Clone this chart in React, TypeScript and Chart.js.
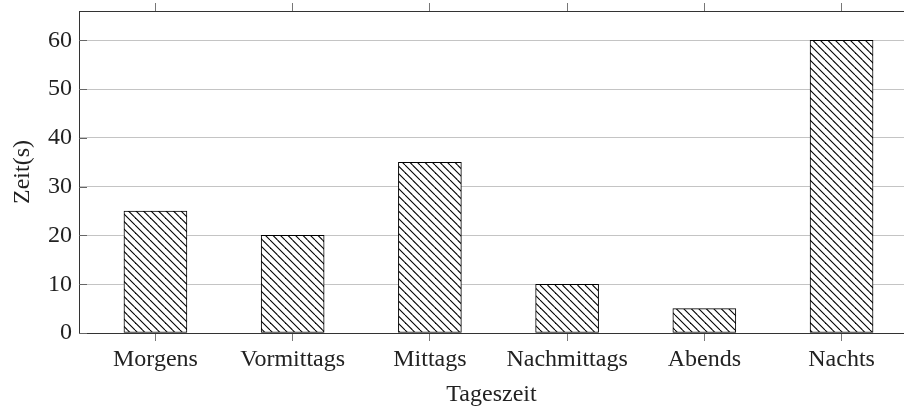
import { useEffect, useRef } from "react";
import { Chart, registerables } from "chart.js";

Chart.register(...registerables);

const categories = ["Morgens", "Vormittags", "Mittags", "Nachmittags", "Abends", "Nachts"];
const zeitValues = [25, 20, 35, 10, 5, 60];
const yTicks = [0, 10, 20, 30, 40, 50, 60];
const xAxisTitle = "Tageszeit";
const yAxisTitle = "Zeit(s)";

const FONT = "'Liberation Serif', 'DejaVu Serif', serif";

function makeHatch(): CanvasPattern | string {
  const s = 15;
  const c = document.createElement("canvas");
  c.width = s;
  c.height = s;
  const g = c.getContext("2d");
  if (!g) return "#fff";
  g.fillStyle = "#ffffff";
  g.fillRect(0, 0, s, s);
  g.strokeStyle = "#000000";
  g.lineWidth = 1.1;
  for (const x0 of [-15, -7.5, 0, 7.5, 15]) {
    g.beginPath();
    g.moveTo(x0, 0);
    g.lineTo(x0 + s, s);
    g.stroke();
  }
  const p = g.createPattern(c, "repeat");
  return p || "#fff";
}

const innerTicks = {
  id: "innerTicks",
  afterDraw(chart: any) {
    const ctx = chart.ctx;
    const y = chart.scales.y;
    const left = chart.chartArea.left;
    ctx.save();
    ctx.strokeStyle = "#666";
    ctx.lineWidth = 1;
    yTicks.forEach((v) => {
      const p = Math.round(y.getPixelForValue(v)) + 0.5;
      ctx.beginPath();
      ctx.moveTo(left, p);
      ctx.lineTo(left + 8, p);
      ctx.stroke();
    });
    ctx.restore();
  },
};

const zeroPad = (scale: any) => {
  scale.paddingTop = 0;
  scale.paddingBottom = 0;
  scale.paddingLeft = 0;
  scale.paddingRight = 0;
};

export default function App() {
  const ref = useRef<HTMLCanvasElement | null>(null);

  useEffect(() => {
    if (!ref.current) return;
    const hatch = makeHatch();
    const xMin = -0.557;
    const xMax = 5.455;
    const chart = new Chart(ref.current, {
      type: "bar",
      data: {
        datasets: [
          {
            label: yAxisTitle,
            data: zeitValues.map((v, i) => ({ x: i, y: v })),
            backgroundColor: hatch as any,
            borderColor: "#000",
            borderWidth: 1,
            borderSkipped: false,
            barThickness: 63,
            xAxisID: "x",
            yAxisID: "y",
          },
        ],
      },
      options: {
        animation: false,
        responsive: true,
        maintainAspectRatio: false,
        layout: { padding: 0 },
        plugins: {
          legend: { display: false },
          tooltip: { enabled: false },
        },
        scales: {
          x: {
            type: "linear",
            position: "bottom",
            offset: false,
            min: xMin,
            max: xMax,
            afterBuildTicks: (scale: any) => {
              scale.ticks = categories.map((_, i) => ({ value: i }));
            },
            afterFit: (scale: any) => {
              scale.height = 77;
              zeroPad(scale);
            },
            ticks: {
              includeBounds: false,
              autoSkip: false,
              maxRotation: 0,
              padding: 4,
              color: "#222",
              font: { family: FONT, size: 24 },
              callback: (v: any) => categories[Math.round(Number(v))] ?? "",
            },
            grid: {
              offset: false,
              drawOnChartArea: false,
              drawTicks: true,
              tickLength: 8,
              color: "#777",
            },
            border: { display: true, color: "#333", width: 1 },
            title: {
              display: true,
              text: xAxisTitle,
              color: "#222",
              font: { family: FONT, size: 24 },
              padding: { top: 0, bottom: 1 },
            },
          },
          x2: {
            type: "linear",
            position: "top",
            offset: false,
            min: xMin,
            max: xMax,
            afterBuildTicks: (scale: any) => {
              scale.ticks = categories.map((_, i) => ({ value: i }));
            },
            afterFit: (scale: any) => {
              scale.height = 11;
              zeroPad(scale);
            },
            ticks: { display: false, includeBounds: false },
            grid: {
              offset: false,
              drawOnChartArea: false,
              drawTicks: true,
              tickLength: 8,
              color: "#777",
            },
            border: { display: true, color: "#333", width: 1 },
          },
          y: {
            type: "linear",
            position: "left",
            min: 0,
            max: 66,
            afterBuildTicks: (scale: any) => {
              scale.ticks = yTicks.map((v) => ({ value: v }));
            },
            afterFit: (scale: any) => {
              scale.width = 79;
              zeroPad(scale);
            },
            ticks: {
              includeBounds: false,
              padding: 7,
              color: "#222",
              font: { family: FONT, size: 24 },
            },
            grid: {
              drawTicks: false,
              color: "#c4c4c4",
              lineWidth: 1,
            },
            border: { display: true, color: "#333", width: 1 },
            title: {
              display: true,
              text: yAxisTitle,
              color: "#222",
              font: { family: FONT, size: 24 },
              padding: { top: 8, bottom: 0 },
            },
          },
        },
      },
      plugins: [innerTicks],
    });
    return () => chart.destroy();
  }, []);

  return (
    <div style={{ position: "fixed", left: 0, top: 0, width: 904, height: 410, background: "#fff" }}>
      <canvas ref={ref} />
    </div>
  );
}
